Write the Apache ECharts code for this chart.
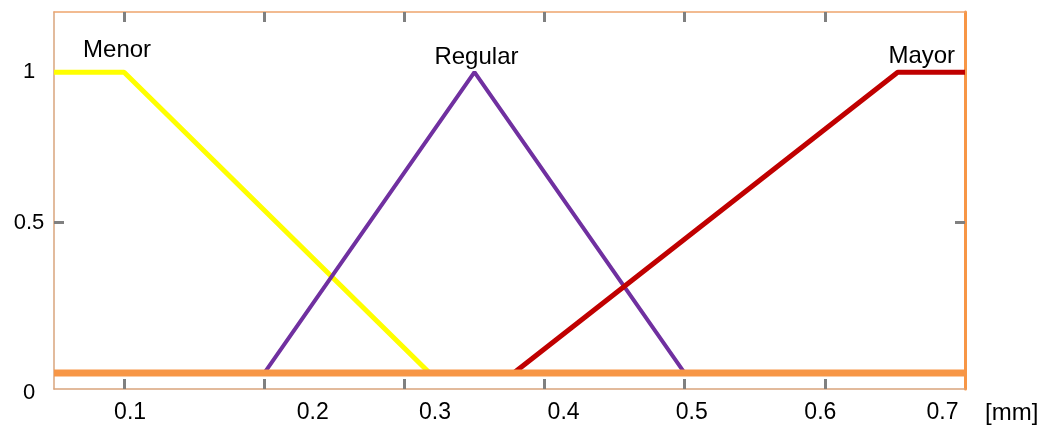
<!DOCTYPE html>
<html>
<head>
<meta charset="utf-8">
<script src="https://cdn.jsdelivr.net/npm/echarts@6/dist/echarts.min.js"></script>
<style>
  html, body { margin: 0; padding: 0; background: #fff; }
  #chart { width: 1042px; height: 430px; }
</style>
</head>
<body>
<div id="chart"></div>
<script>
// membership functions, x in mm
const menorX = [0.05, 0.1, 0.318, 0.7];
const menorY = [1, 1, 0, 0];
const regularX = [0.05, 0.2, 0.35, 0.5, 0.7];
const regularY = [0, 0, 1, 0, 0];
const mayorX = [0.05, 0.378, 0.652, 0.7];
const mayorY = [0, 0, 1, 1];
const baseX = [0.05, 0.7];
const baseY = [0, 0];

// axis ticks and labels (labels sit a bit off the ticks in the original)
const xTickValues = [0.1, 0.2, 0.3, 0.4, 0.5, 0.6];
const xTickLabels = ['0.1', '0.2', '0.3', '0.4', '0.5', '0.6', '0.7'];
const xLabelPos = [0.1043, 0.2346, 0.3218, 0.4136, 0.505, 0.5968, 0.6839];
const yTickValues = [0.5];
const yTickLabels = ['0', '0.5', '1'];
const yLabelPos = [-0.053, 0.5, 1];

const FONT = '"Liberation Sans", Arial, sans-serif';

const pair = (xs, ys) => xs.map((x, i) => [x, ys[i]]);

function withLabel(points, idx, text, offset) {
  return points.map((p, i) => {
    if (i !== idx) return p;
    return {
      value: p,
      label: {
        show: true,
        position: 'top',
        distance: 5,
        offset: offset,
        formatter: text,
        color: '#000',
        fontFamily: FONT,
        fontSize: 24,
        lineHeight: 24
      }
    };
  });
}

const tickStyle = { show: true, inside: true, length: 10, lineStyle: { color: '#808080', width: 3 } };

let myChart = echarts.init(document.getElementById('chart'));

const lineSeries = (name, data, color, width) => ({
  name: name,
  type: 'line',
  showSymbol: true,
  symbol: 'circle',
  symbolSize: 0,
  label: { show: false },
  lineStyle: { color: color, width: width },
  itemStyle: { color: color },
  data: data
});

const option = {
  animation: false,
  grid: { left: 54, right: 77, top: 12, bottom: 41 },
  xAxis: [{
    type: 'value',
    position: 'bottom',
    min: 0.05,
    max: 0.7,
    name: '[mm]',
    nameLocation: 'end',
    nameGap: 20,
    nameTextStyle: { fontFamily: FONT, fontSize: 24, color: '#000', verticalAlign: 'top', padding: [12, 0, 0, 0] },
    axisLine: { show: true, onZero: false, lineStyle: { color: '#d9a47c', width: 1.5 } },
    axisTick: Object.assign({ customValues: xTickValues }, tickStyle),
    axisLabel: {
      customValues: xLabelPos,
      margin: 12,
      verticalAlign: 'top',
      fontFamily: FONT,
      fontSize: 23,
      color: '#000',
      formatter: v => {
        let best = 0;
        xLabelPos.forEach((p, i) => { if (Math.abs(p - v) < Math.abs(xLabelPos[best] - v)) best = i; });
        return xTickLabels[best];
      }
    },
    splitLine: { show: false }
  }, {
    type: 'value',
    position: 'top',
    min: 0.05,
    max: 0.7,
    axisLine: { show: true, onZero: false, lineStyle: { color: '#eea56e', width: 1.5 } },
    axisTick: Object.assign({ customValues: xTickValues }, tickStyle),
    axisLabel: { show: false },
    splitLine: { show: false }
  }],
  yAxis: [{
    type: 'value',
    position: 'left',
    min: -0.053,
    max: 1.2,
    axisLine: { show: true, onZero: false, lineStyle: { color: '#d9a47c', width: 1.5 } },
    axisTick: Object.assign({ customValues: yTickValues }, tickStyle),
    axisLabel: {
      customValues: yLabelPos,
      margin: 25,
      align: 'center',
      fontFamily: FONT,
      fontSize: 22,
      color: '#000',
      formatter: v => {
        let best = 0;
        yLabelPos.forEach((p, i) => { if (Math.abs(p - v) < Math.abs(yLabelPos[best] - v)) best = i; });
        return best === 0 ? '{low|' + yTickLabels[0] + '}' : yTickLabels[best];
      },
      rich: { low: { fontFamily: FONT, fontSize: 22, color: '#000', padding: [8, 0, 0, 0] } }
    },
    splitLine: { show: false }
  }, {
    type: 'value',
    position: 'right',
    min: -0.053,
    max: 1.2,
    axisLine: { show: true, onZero: false, lineStyle: { color: '#f79646', width: 3 } },
    axisTick: Object.assign({ customValues: yTickValues }, tickStyle),
    axisLabel: { show: false },
    splitLine: { show: false }
  }],
  series: [
    lineSeries('Menor', withLabel(pair(menorX, menorY), 1, 'Menor', [-7, -5]), '#ffff00', 5),
    lineSeries('Regular', withLabel(pair(regularX, regularY), 2, 'Regular', [2, 2]), '#7030a0', 4),
    lineSeries('Mayor', withLabel(pair(mayorX, mayorY), 2, 'Mayor', [24, 1]), '#c00000', 5),
    lineSeries('base', pair(baseX, baseY), '#f79646', 7)
  ]
};

myChart.setOption(option);
</script>
</body>
</html>
